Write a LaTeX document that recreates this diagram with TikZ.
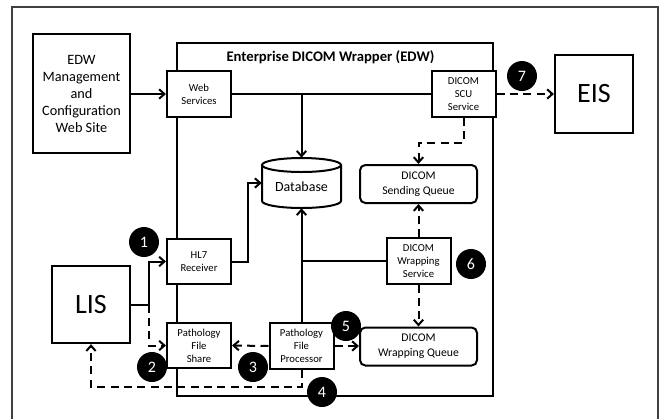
\documentclass[tikz,border=0pt]{standalone}
\usepackage{fontspec}
\setmainfont{Carlito}
\usetikzlibrary{arrows.meta}

\begin{document}
\begin{tikzpicture}[x=0.75pt, y=-0.75pt,
		box/.style={draw, line width=1.5pt, fill=white, align=center, inner sep=0pt},
		bigbox/.style={box, font=\fontsize{10.7}{12.75}\selectfont},
		smallbox/.style={box, minimum width=48pt, minimum height=34pt, font=\fontsize{8}{9.75}\selectfont},
		queue/.style={box, rounded corners=4pt, minimum width=87.75pt, minimum height=28.5pt, font=\fontsize{8.8}{11.25}\selectfont},
		badge/.style={circle, fill=black, text=white, minimum size=22.5pt, inner sep=0pt, font=\fontsize{12}{12}\selectfont},
		wire/.style={line width=1.5pt},
		link/.style={wire, -{Straight Barb[length=4pt,width=7pt]}},
		flow/.style={link, dash pattern=on 6pt off 4pt}]
		\useasboundingbox (0,0) rectangle (661,419);
		\draw[line width=0.8pt, color=black!75] (12,419) -- (12,7) -- (658,7) -- (658,419);
		
		\draw[wire] (177,43) rectangle (493,396);
		\node[font=\bfseries\fontsize{11}{13}\selectfont] (title) at (330.5,57) {Enterprise DICOM Wrapper (EDW)};
		
		\draw[wire, fill=white] (262,165) -- (262,201) arc[start angle=180, end angle=0, x radius=39.5, y radius=7] -- (341,165);
		\draw[wire] (301.5,165) ellipse[x radius=39.5, y radius=7];
		\node[inner sep=0pt, minimum width=59.25pt, minimum height=37.5pt, text height=12pt, text depth=0pt, font=\fontsize{10.5}{12}\selectfont] (db) at (301.5,183) {Database};
		
		\node[bigbox, minimum width=72.75pt, minimum height=89.25pt] (mgmt) at (81.5,93.5) {EDW\\Management\\and\\Configuration\\Web Site};
		\node[smallbox] (web) at (199,94) {Web\\Services};
		\node[smallbox] (scu) at (463.5,94) {DICOM\\SCU\\Service};
		\node[box, minimum size=58.5pt, font=\fontsize{21}{24}\selectfont] (eis) at (594,94) {EIS};
		\node[queue] (sendq) at (418.5,184) {DICOM\\Sending Queue};
		\node[smallbox] (hl7) at (199,261.5) {HL7\\Receiver};
		\node[box, minimum size=58pt, font=\fontsize{21}{24}\selectfont] (lis) at (91,304.5) {LIS};
		\node[smallbox] (share) at (199,345.5) {Pathology\\File\\Share};
		\node[smallbox] (proc) at (301.5,346) {Pathology\\File\\Processor};
		\node[smallbox] (wrapsvc) at (418.5,261) {DICOM\\Wrapping\\Service};
		\node[queue] (wrapq) at (418.5,346.5) {DICOM\\Wrapping Queue};
		
		\draw[link] (mgmt.east |- web.west) -- (web.west);
		\draw[wire] (web.east) -- (scu.west);
		\coordinate (dbtap) at (db.north |- web.east);
		\draw[link] (dbtap) -- (db.north);
		\draw[flow] (scu.east) -- (eis.west);
		\draw[flow] (scu.south) -- ++(0,25) -| (sendq.north);
		
		\coordinate (split) at ([xshift=13.5pt]lis.east);
		\draw[wire] (lis.east) -- (split);
		\draw[link] (split) |- (hl7.west);
		\draw[flow] (split) |- (share.west);
		\draw[link] (hl7.east) -- ++(16,0) |- (db.west);
		
		\draw[flow] (proc.west) -- (share.east);
		\draw[flow] (proc.east) -- (proc.east -| wrapq.west);
		\draw[link] (proc.north) -- (db.south);
		\draw[wire] (wrapsvc.west) -- (wrapsvc.west -| proc.north);
		\draw[flow] (wrapsvc.north) -- (sendq.south);
		\draw[flow] (wrapsvc.south) -- (wrapq.north);
		\draw[flow] (proc.south) -- ++(0,17) -| (lis.south);
		
		\node[badge] (b1) at (144,242) {1};
		\node[badge] (b2) at (152,367) {2};
		\node[badge] (b3) at (253,367) {3};
		\node[badge] (b4) at (322,392) {4};
		\node[badge] (b5) at (346,326) {5};
		\node[badge] (b6) at (471,264) {6};
		\node[badge] (b7) at (522,76) {7};
	\end{tikzpicture}
\end{document}
